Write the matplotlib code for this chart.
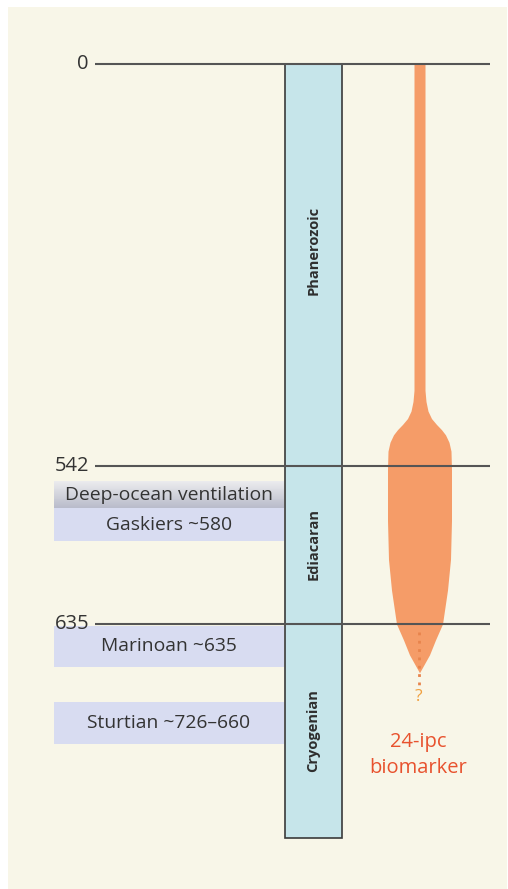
import numpy as np
import matplotlib
matplotlib.use("Agg")
from matplotlib import pyplot as plt
from matplotlib.patches import Rectangle

plt.rcParams['font.family'] = ['Open Sans', 'DejaVu Sans']

# geological time boundaries (Ma)
boundary_ages = [0, 542, 635]
boundary_labels = ["0", "542", "635"]
column_base = 850

periods = ["Phanerozoic", "Ediacaran", "Cryogenian"]
period_label_ages = [252, 588, 742]

# event boxes (start, end in Ma, as drawn)
events = ["Deep-ocean ventilation", "Gaskiers ~580", "Marinoan ~635", "Sturtian ~726\u2013660"]
event_start = [551, 567, 637, 713]
event_end = [567, 586, 678, 756]

# 24-ipc biomarker abundance (half width of spindle) vs age
marker_age = [0, 440, 455, 468, 478, 486, 493, 500, 510, 522, 544, 574, 597, 615, 627, 635, 651, 666, 684]
marker_abund = [5.5, 5.5, 6.5, 8.5, 12, 17, 22, 26, 29.5, 31.5, 32, 32, 31, 28, 25, 23, 16, 10, 0]
uncertain_age = [643, 696]

# piecewise time axis (age -> drawn position)
scale_ages = [-300, 0, 542, 635, 850, 1200]
scale_pos = [-300 * 0.7417, 0, 402, 560, 774, 774 + 350 * 0.9953]


def forward(a):
    return np.interp(a, scale_ages, scale_pos)


def inverse(p):
    return np.interp(p, scale_pos, scale_ages)


fig = plt.figure(figsize=(5.08, 8.89), dpi=100)
fig.patch.set_facecolor("white")
fig.patches.append(Rectangle((8 / 508, 0), 499 / 508, 882 / 889, transform=fig.transFigure,
                             facecolor="#f8f6e8", edgecolor="none", zorder=-10))

ax = fig.add_axes([0, 0, 1, 1])
ax.set_facecolor("none")
ax.set_yscale("function", functions=(forward, inverse))
ax.set_xlim(0, 508)
ax.set_ylim(inverse(889 - 64), inverse(-64))
ax.axis("off")

# time column
ax.bar(313.5, column_base, bottom=0, width=57, color="#c6e5ea", edgecolor="#3a3a3a", lw=1.2, zorder=2)
for name, a in zip(periods, period_label_ages):
    ax.text(313.5, a, name, rotation=90, ha="center", va="center", fontsize=10.5,
            fontweight="bold", color="#2e2e2e", zorder=3)

# event boxes
c_top = np.array([0.92, 0.92, 0.93])
c_bot = np.array([0.72, 0.73, 0.79])
for i, (name, s, e) in enumerate(zip(events, event_start, event_end)):
    if i == 0:
        n = 30
        edges = np.linspace(s, e, n + 1)
        for k in range(n):
            t = k / (n - 1)
            ax.bar(169, edges[k + 1] - edges[k], bottom=edges[k], width=230,
                   color=c_top * (1 - t) + c_bot * t, lw=0, zorder=1)
    else:
        ax.bar(169, e - s, bottom=s, width=230, color="#d8dcf1", lw=0, zorder=1)
    mid = inverse((forward(s) + forward(e)) / 2)
    ax.text(169, mid, name, ha="center", va="center", fontsize=13.9, color="#333333", zorder=3)

# biomarker spindle
ma = np.array(marker_age)
mw = np.array(marker_abund)
ax.fill_betweenx(ma, 419.5 - mw, 419.5 + mw, color="#f59c68", lw=0, zorder=2)
ax.plot([418.5, 418.5], uncertain_age, color="#e8844c", ls=(0, (1, 2)), lw=2, zorder=3)
ax.text(418.5, 708, "?", ha="center", va="center", fontsize=12.5, color="#f0a040", zorder=3)
ax.text(418.5, 753.5, "24-ipc", ha="center", va="center", fontsize=14.5, color="#e8522e")
ax.text(418.5, 780, "biomarker", ha="center", va="center", fontsize=14.5, color="#e8522e")

# boundary lines and labels
ax.hlines(boundary_ages, 95, 490, color="#555555", lw=1.5, zorder=4)
for a, lab in zip(boundary_ages, boundary_labels):
    ax.text(89, a, lab, ha="right", va="center", fontsize=14.5, color="#333333")

fig.savefig("out.png", dpi=100)
